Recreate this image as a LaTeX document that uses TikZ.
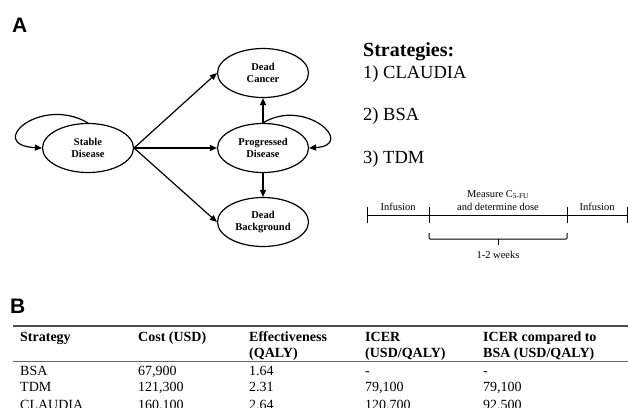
\documentclass[tikz,border=0pt]{standalone}
\usepackage{fontspec}
\setmainfont{Liberation Serif}
\newfontfamily\panelfont{Liberation Sans}
\usetikzlibrary{shapes.geometric, arrows.meta, positioning}

\tikzset{
    state/.style={ellipse, draw, line width=1.2pt, minimum width=91pt, minimum height=49pt,
        inner sep=1pt, align=center, font=\fontsize{10.5}{12.5}\selectfont\bfseries},
    trans/.style={-{Triangle[length=7pt, width=6pt]}, line width=1.2pt},
    panel/.style={anchor=base west, inner sep=0pt, font=\panelfont\fontsize{21}{24}\selectfont\bfseries},
    strat/.style={anchor=base west, inner sep=0pt, font=\fontsize{18.5}{20}\selectfont},
    tlline/.style={line width=1pt},
    tlabel/.style={anchor=base, inner sep=0pt, font=\fontsize{10.5}{13}\selectfont},
    cell/.style={anchor=base west, inner sep=0pt, font=\fontsize{14}{16.5}\selectfont},
    headcell/.style={cell, font=\fontsize{14}{16.5}\selectfont\bfseries}
}

\begin{document}
\begin{tikzpicture}[x=1pt, y=-1pt]
    \useasboundingbox (0,0) rectangle (628,407);
    \clip (0,0) rectangle (628,407);

    % Panel A: state diagram
    \node[panel] (labA) at (12,32) {A};

    \node[state] (stable) at (88,148) {Stable\\Disease};
    \node[state] (cancer) at (263,73) {Dead\\Cancer};
    \node[state] (prog) at (263,148) {Progressed\\Disease};
    \node[state] (bg) at (263,222) {Dead\\Background};

    \draw[trans] (stable.east) -- (cancer.west);
    \draw[trans] (stable.east) -- (prog.west);
    \draw[trans] (stable.east) -- (bg.west);
    \draw[trans] (prog.north) -- (cancer.south);
    \draw[trans] (prog.south) -- (bg.north);

    % self loops
    \draw[trans] (stable.north) .. controls (40,95) and (-15,145) .. (stable.west);
    \draw[trans] (prog.north) .. controls (305,97) and (357,145) .. (prog.east);

    % Strategies
    \node[strat, font=\fontsize{20}{22}\selectfont\bfseries] (strathead) at (363,56.5) {Strategies:};
    \node[strat] (s1) at (363,78) {1) CLAUDIA};
    \node[strat] (s2) at (363,120) {2) BSA};
    \node[strat] (s3) at (363,163) {3) TDM};

    % Timeline
    \coordinate (t0) at (367,215);
    \coordinate (t1) at (429,215);
    \coordinate (t2) at (567,215);
    \coordinate (t3) at (627,215);
    \draw[tlline] (t0) -- (t3);
    \foreach \t in {t0,t1,t2,t3}
        \draw[tlline] ([yshift=-8pt]\t) -- ([yshift=8pt]\t);

    \node[tlabel] (inf1) at (398,210) {Infusion};
    \node[tlabel] (meas) at (498,197) {Measure C\textsubscript{5-FU}};
    \node[tlabel] (dose) at (498,210) {and determine dose};
    \node[tlabel] (inf2) at (597,210) {Infusion};

    \draw[tlline, rounded corners=1pt] ([yshift=-18pt]t1) -- ([yshift=-24pt]t1) -- ([yshift=-24pt]t2) -- ([yshift=-18pt]t2);
    \coordinate (bmid) at (498,239);
    \draw[tlline] (bmid) -- ++(0,6);
    \node[tlabel] (weeks) at (498,258) {1-2 weeks};

    % Panel B: table
    \node[panel] (labB) at (10,313) {B};

    \draw[line width=1.2pt, black!70] (13,326) -- (628,326);
    \draw[line width=0.8pt, black!60] (13,361.5) -- (628,361.5);

    \node[headcell] (h1) at (20,341) {Strategy};
    \node[headcell] (h2) at (138,341) {Cost (USD)};
    \node[headcell] (h3) at (249,341) {Effectiveness};
    \node[headcell] (h4) at (365,341) {ICER};
    \node[headcell] (h5) at (483,341) {ICER compared to};
    \node[headcell] (h3b) at (249,357) {(QALY)};
    \node[headcell] (h4b) at (365,357) {(USD/QALY)};
    \node[headcell] (h5b) at (483,357) {BSA (USD/QALY)};

    \foreach \y/\sname/\cost/\eff/\icer/\icerb in {
        375/BSA/{67,900}/1.64/-/-,
        391.5/TDM/{121,300}/2.31/{79,100}/{79,100},
        409/CLAUDIA/{160,100}/2.64/{120,700}/{92,500}} {
        \node[cell] at (20,\y) {\sname};
        \node[cell] at (138,\y) {\cost};
        \node[cell] at (249,\y) {\eff};
        \node[cell] at (365,\y) {\icer};
        \node[cell] at (483,\y) {\icerb};
    }
\end{tikzpicture}
\end{document}
